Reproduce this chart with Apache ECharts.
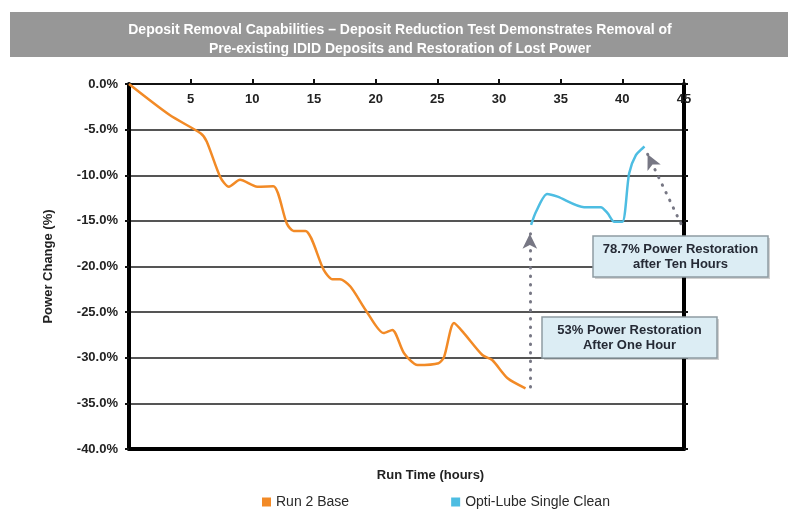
<!DOCTYPE html>
<html>
<head>
<meta charset="utf-8">
<title>Deposit Removal Capabilities</title>
<script src="https://cdn.jsdelivr.net/npm/echarts@6/dist/echarts.min.js"></script>
<style>
  html, body { margin: 0; padding: 0; background: #fff; }
  #grafico { width: 800px; height: 531px; }
</style>
</head>
<body>
<div id="grafico"></div>
<script>
// datos (horas / cambio de potencia en %)
var horasBase = [0, 3.3, 5.8, 6.3, 7.4, 8.1, 9.0, 10.4, 11.7, 12.8, 13.35, 14.3, 15.8, 16.5, 17.1, 17.95, 19.25, 20.65, 21.35, 22.3, 23.4, 25.1, 25.55, 26.35, 27.15, 28.65, 29.45, 30.7, 32.15];
var cambioBase = [0, -3.4, -5.4, -6.3, -10.2, -11.25, -10.5, -11.25, -11.2, -15.3, -16.1, -16.1, -20.4, -21.4, -21.4, -22.2, -24.9, -27.3, -26.95, -29.5, -30.8, -30.6, -29.9, -26.2, -27.3, -29.7, -30.25, -32.25, -33.35];

var horasLimpieza = [32.6, 33.0, 33.9, 34.75, 36.9, 38.25, 38.8, 39.35, 40.0, 40.55, 41.1, 41.8];
var cambioLimpieza = [-15.45, -14.0, -12.05, -12.35, -13.5, -13.5, -14.15, -15.1, -15.1, -9.8, -7.8, -6.85];

var nombresSeries = ['Run 2 Base', 'Opti-Lube Single Clean'];
var coloresSeries = ['#f28a26', '#4dbde2'];

var tituloTexto = 'Deposit Removal Capabilities \u2013 Deposit Reduction Test Demonstrates Removal of\nPre-existing IDID Deposits and Restoration of Lost Power';
var notaDiez = '78.7% Power Restoration\nafter Ten Hours';
var notaUna = '53% Power Restoration\nAfter One Hour';

// flechas punteadas: [x inicio, y inicio, x fin, y fin]
var flechaUna = [32.5, -33.2, 32.5, -16.4];
var flechaDiez = [44.75, -15.3, 42.05, -7.7];

var fuente = '"Liberation Sans", Arial, Helvetica, sans-serif';

function juntar(xs, ys) {
  return xs.map(function (x, i) { return [x, ys[i]]; });
}

// caja de nota con sombra, encima de ejes y lineas
function caja(x, y, w, h, texto) {
  return {
    type: 'group',
    x: x,
    y: y,
    children: [
      { type: 'rect', z: 100, shape: { x: 2, y: 2, width: w, height: h }, style: { fill: 'rgba(0,0,0,0.18)' } },
      { type: 'rect', z: 101, shape: { x: 0, y: 0, width: w, height: h }, style: { fill: '#dcedf4', stroke: '#8e9ca2', lineWidth: 1.5 } },
      {
        type: 'text', z: 102, x: w / 2, y: h / 2,
        style: { text: texto, fill: '#252a35', font: 'bold 13px ' + fuente, align: 'center', verticalAlign: 'middle', lineHeight: 15 }
      }
    ]
  };
}

var chart = echarts.init(document.getElementById('grafico'));

var opciones = {
  animation: false,
  backgroundColor: '#fff',
  title: {
    text: tituloTexto,
    left: 'center',
    top: 16,
    z: 10,
    textStyle: { color: '#fff', fontFamily: fuente, fontSize: 14, fontWeight: 'bold', lineHeight: 19 }
  },
  legend: {
    left: 257,
    top: 490,
    icon: 'rect',
    itemWidth: 9,
    itemHeight: 9,
    itemGap: 102,
    data: nombresSeries,
    textStyle: { color: '#2a2a2a', fontSize: 14, fontFamily: fuente }
  },
  grid: { left: 129, right: 116, top: 84, bottom: 82 },
  xAxis: [
    {
      type: 'value', position: 'top', min: 0, max: 45, interval: 5,
      axisLine: { show: true, onZero: false, lineStyle: { color: '#111', width: 2 } },
      axisTick: { show: true, length: 5, lineStyle: { color: '#111', width: 2 } },
      axisLabel: { inside: true, margin: 9, showMinLabel: false, color: '#222', fontFamily: fuente, fontSize: 13, fontWeight: 'bold' },
      splitLine: { show: false }
    },
    {
      type: 'value', position: 'bottom', min: 0, max: 45, interval: 5,
      axisLine: { show: true, onZero: false, lineStyle: { color: '#000', width: 4 } },
      axisTick: { show: false },
      axisLabel: { show: false },
      splitLine: { show: false },
      name: 'Run Time (hours)',
      nameLocation: 'middle',
      nameGap: 20,
      nameTextStyle: { color: '#222', fontFamily: fuente, fontSize: 13, fontWeight: 'bold', padding: [0, 0, 0, 48] }
    }
  ],
  yAxis: [
    {
      type: 'value', position: 'left', min: -40, max: 0, interval: 5,
      axisLine: { show: true, onZero: false, lineStyle: { color: '#000', width: 4 } },
      axisTick: { show: true, length: 4, lineStyle: { color: '#111', width: 2 } },
      axisLabel: {
        margin: 11, color: '#222', fontFamily: fuente, fontSize: 13, fontWeight: 'bold',
        formatter: function (v) { return v.toFixed(1) + '%'; }
      },
      splitLine: { show: true, lineStyle: { color: '#555', width: 2 } },
      name: 'Power Change (%)',
      nameLocation: 'middle',
      nameGap: 74,
      nameTextStyle: { color: '#222', fontFamily: fuente, fontSize: 13, fontWeight: 'bold' }
    },
    {
      type: 'value', position: 'right', min: -40, max: 0, interval: 5,
      axisLine: { show: true, onZero: false, lineStyle: { color: '#000', width: 4 } },
      axisTick: { show: true, length: 4, lineStyle: { color: '#111', width: 2 } },
      axisLabel: { show: false },
      splitLine: { show: false }
    }
  ],
  series: [
    {
      name: nombresSeries[0],
      type: 'line',
      xAxisIndex: 0,
      yAxisIndex: 0,
      smooth: 0.25,
      showSymbol: false,
      itemStyle: { color: coloresSeries[0] },
      lineStyle: { color: coloresSeries[0], width: 2.5 },
      data: juntar(horasBase, cambioBase)
    },
    {
      name: nombresSeries[1],
      type: 'line',
      xAxisIndex: 0,
      yAxisIndex: 0,
      smooth: 0.25,
      showSymbol: false,
      itemStyle: { color: coloresSeries[1] },
      lineStyle: { color: coloresSeries[1], width: 2.5 },
      data: juntar(horasLimpieza, cambioLimpieza),
      markLine: {
        silent: true,
        symbol: ['none', 'arrow'],
        symbolSize: [11, 15],
        label: { show: false },
        lineStyle: { color: '#777784', type: [0.5, 8], width: 3, cap: 'round' },
        data: [
          [{ coord: [flechaUna[0], flechaUna[1]] }, { coord: [flechaUna[2], flechaUna[3]] }],
          [{ coord: [flechaDiez[0], flechaDiez[1]] }, { coord: [flechaDiez[2], flechaDiez[3]] }]
        ]
      }
    }
  ],
  graphic: [
    { type: 'rect', left: 10, top: 12, z: 0, shape: { width: 778, height: 45 }, style: { fill: '#979797' } },
    caja(593, 236, 175, 41, notaDiez),
    caja(542, 317, 175, 41, notaUna)
  ]
};

chart.setOption(opciones);
</script>
</body>
</html>
